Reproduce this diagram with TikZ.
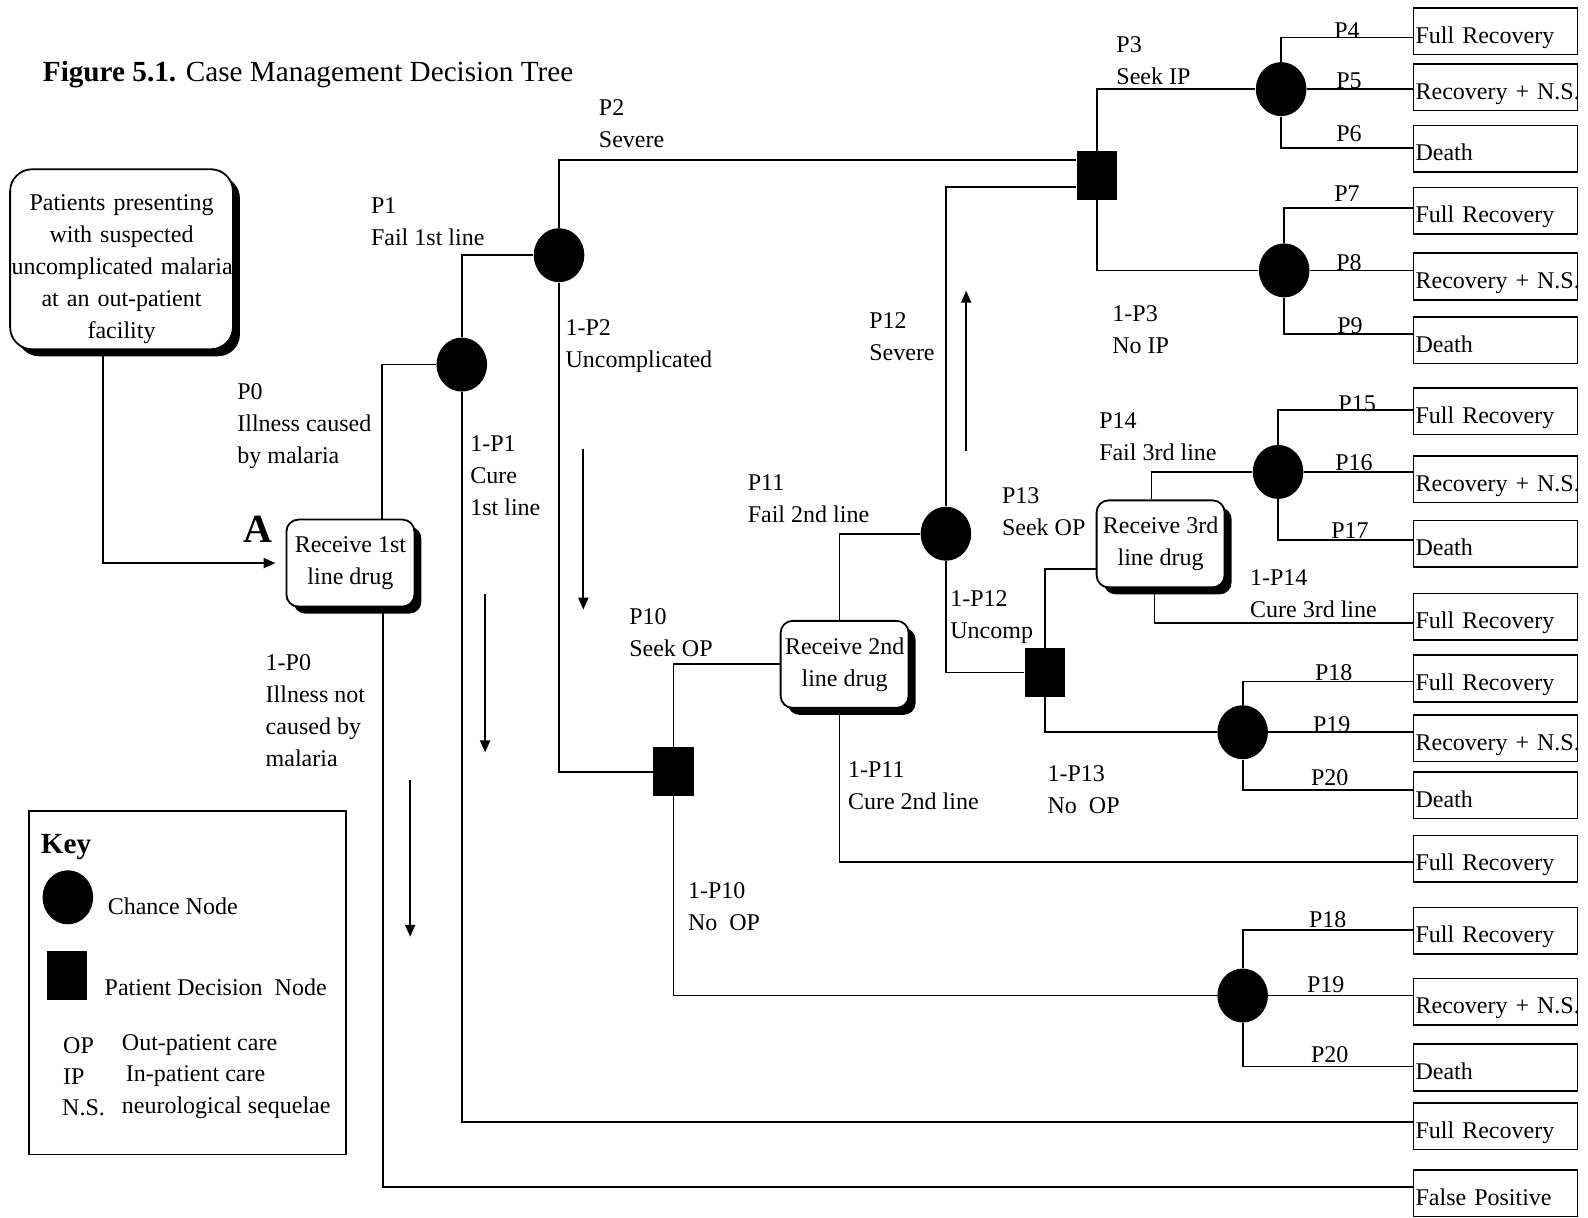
\documentclass[tikz,border=0pt]{standalone}
\usepackage{fontspec}
\setmainfont{Liberation Serif}
\usepackage{tikz}
\usetikzlibrary{arrows.meta,calc,shapes.geometric,shadows}

\tikzset{
  chance/.style={ellipse,fill=black,minimum width=25.3pt,minimum height=27pt,inner sep=0pt},
  decide/.style={rectangle,fill=black,minimum width=20.3pt,minimum height=24.3pt,inner sep=0pt},
  drugbox/.style={draw,fill=white,rounded corners=6pt,line width=0.9pt,align=center,
    minimum width=64pt,minimum height=43.5pt,inner sep=1pt,
    drop shadow={shadow xshift=3.5pt,shadow yshift=-3.5pt,opacity=1,fill=black}},
  startbox/.style={drugbox,rounded corners=11pt,text width=110pt,inner sep=0.7pt,
    minimum height=90pt},
  outbox/.style={draw,line width=0.8pt,anchor=west,text width=80pt,inner xsep=1pt,
    minimum height=23.3pt,text height=14pt,text depth=2pt,align=left},
  lbl/.style={anchor=west,align=left,inner sep=0pt},
  plbl/.style={inner sep=0pt},
  link/.style={line width=0.9pt},
  flow/.style={line width=0.9pt,-{Triangle[length=6pt,width=5pt]}},
}

\begin{document}
\begin{tikzpicture}[x=0.5064pt,y=-0.5064pt,font=\fontsize{12}{16}\selectfont]
  \useasboundingbox (0,0) rectangle (1568,1202);
  % title
  \node[lbl,font=\fontsize{14.6}{18}\selectfont] (title) at (42,74)
    {\textbf{Figure 5.1.} Case Management Decision Tree};

  % drug boxes
  \node[startbox] (patients) at (120,256)
    {\rule{0pt}{18pt}Patients presenting\\with suspected\\\mbox{uncomplicated malaria}\\at an out-patient\\facility};
  \node[drugbox] (recv1) at (346,556) {Receive 1st\\line drug};
  \node[drugbox] (recv2) at (834,656) {Receive 2nd\\line drug};
  \node[drugbox] (recv3) at (1146,537) {Receive 3rd\\line drug};
  \node[font=\fontsize{20}{24}\selectfont\bfseries] (mark) at (255,523) {A};

  % chance and decision nodes
  \node[chance] (c1) at (456,360) {};
  \node[chance] (c2) at (552,252) {};
  \node[chance] (c3) at (934,527) {};
  \node[chance] (c4) at (1265,88) {};
  \node[chance] (c5) at (1268,267) {};
  \node[chance] (c6) at (1227,723) {};
  \node[chance] (c7) at (1227,983) {};
  \node[chance] (c8) at (1262,466) {};
  \node[decide] (d1) at (665,762) {};
  \node[decide] (d2) at (1083,173) {};
  \node[decide] (d3) at (1032,664) {};

  % outcomes (box centre / where the branch comes in)
  \foreach \y/\dy/\txt [count=\i] in {31/6/Full Recovery, 86/2/Recovery + N.S., 147/-1/Death,
      208/-3/Full Recovery, 273/-6/Recovery + N.S., 336/-6/Death, 406/-1/Full Recovery,
      473/-5/Recovery + N.S., 537/-4/Death, 609/6/Full Recovery, 670/3/Full Recovery,
      729/-6/Recovery + N.S., 785/-5/Death, 848/3/Full Recovery, 919/-1/Full Recovery,
      989/-4/Recovery + N.S., 1054/-1/Death, 1112/-4/Full Recovery, 1178/-6/False Positive}
  {
    \node[outbox] (o\i) at (1395,\y) {\mbox{\txt}};
    \coordinate (in\i) at ($(o\i.west)+(0,\dy)$);
  }

  % branches
  \draw[flow,shorten >=5pt] ($(patients.south)+(-18,0)$) |- (recv1);
  \draw[link] ($(recv1.north)+(31,0)$) |- (c1);
  \draw[link] ($(recv1.south)+(32,0)$) |- (in19);
  \draw[link] (c1.north) |- (c2);
  \draw[link] (c1.south) |- (in18);
  \draw[link] (c2.north) |- ($(d2.west)+(0,-15)$);
  \draw[link] (c2.south) |- (d1);
  \draw[link] (d1.north) |- (recv2);
  \draw[link] (d1.south) |- (c7);
  \draw[link] ($(recv2.north)+(-5,0)$) |- (c3);
  \draw[link] ($(recv2.south)+(-5,0)$) |- (in14);
  \draw[link] (c3.north) |- ($(d2.west)+(0,12)$);
  \draw[link] (c3.south) |- (d3);
  \draw[link] (d2.north) |- (c4);
  \draw[link] (d2.south) |- (c5);
  \draw[link] (d3.north) |- ($(recv3.west)+(0,25)$);
  \draw[link] (d3.south) |- (c6);
  \draw[link] ($(recv3.north)+(-9,0)$) |- (c8);
  \draw[link] ($(recv3.south)+(-6,0)$) |- (in10);
  \foreach \c/\a/\b/\d in {c4/1/2/3, c5/4/5/6, c8/7/8/9, c6/11/12/13, c7/15/16/17} {
    \draw[link] (\c.north) |- (in\a);
    \draw[link] (\c) -- (\c -| o\b.west);
    \draw[link] (\c.south) |- (in\d);
  }

  % branch labels
  \node[lbl] (lp0) at (234,421) {P0\\Illness caused\\by malaria};
  \node[lbl] (lq0) at (262,702) {1-P0\\Illness not\\caused by\\malaria};
  \node[lbl] (lp1) at (366,219) {P1\\Fail 1st line};
  \node[lbl] (lq1) at (464,470) {1-P1\\Cure\\1st line};
  \node[lbl] (lp2) at (591,122) {P2\\Severe};
  \node[lbl] (lq2) at (558,342) {1-P2\\Uncomplicated};
  \node[lbl] (lp10) at (621,625) {P10\\Seek OP};
  \node[lbl] (lq10) at (679,895) {1-P10\\No~~OP};
  \node[lbl] (lp11) at (738,492) {P11\\Fail 2nd line};
  \node[lbl] (lq11) at (837,776) {1-P11\\Cure 2nd line};
  \node[lbl] (lp12) at (858,332) {P12\\Severe};
  \node[lbl] (lq12) at (938,609) {1-P12\\Uncomp};
  \node[lbl] (lp3) at (1102,60) {P3\\Seek IP};
  \node[lbl] (lq3) at (1098,326) {1-P3\\No IP};
  \node[lbl] (lp13) at (989,505) {P13\\Seek OP};
  \node[lbl] (lq13) at (1034,780) {1-P13\\No~~OP};
  \node[lbl] (lp14) at (1085,431) {P14\\Fail 3rd line};
  \node[lbl] (lq14) at (1234,586) {1-P14\\Cure 3rd line};
  \foreach \x/\y/\t [count=\i] in {1330/30/P4, 1332/80/P5, 1332/132/P6, 1330/191/P7,
      1332/259/P8, 1333/322/P9, 1340/399/P15, 1337/457/P16, 1333/524/P17,
      1317/664/P18, 1315/716/P19, 1313/768/P20, 1311/908/P18, 1309/972/P19, 1313/1041/P20}
    \node[plbl] (pb\i) at (\x,\y) {\t};

  % loose arrows
  \coordinate (a1) at (576,443); \coordinate (a1e) at (576,602);
  \coordinate (a2) at (479,587); \coordinate (a2e) at (479,743);
  \coordinate (a3) at (405,770); \coordinate (a3e) at (405,925);
  \coordinate (a4) at (954,445); \coordinate (a4e) at (954,287);
  \foreach \a in {a1,a2,a3,a4}
    \draw[flow] (\a) -- (\a e);

  % key
  \node[draw,line width=0.9pt,anchor=north west,minimum width=158.5pt,minimum height=171.7pt] (key) at (28,800) {};
  \node[lbl,font=\fontsize{14.6}{18}\selectfont\bfseries] (keyt) at (40,836) {Key};
  \node[chance] (kc) at (67,886) {};
  \node[lbl] (kct) at (106,895) {Chance Node};
  \node[decide] (kd) at (66,963) {};
  \node[lbl] (kdt) at (103,975) {Patient Decision~~Node};
  \node[lbl] (kop) at (62,1032) {OP};
  \node[lbl] (kopt) at (120,1032) {Out-patient care};
  \node[lbl] (kip) at (62,1063) {IP};
  \node[lbl] (kipt) at (124,1063) {In-patient care};
  \node[lbl] (kns) at (61,1094) {N.S.};
  \node[lbl] (knst) at (120,1094) {neurological sequelae};
\end{tikzpicture}
\end{document}
